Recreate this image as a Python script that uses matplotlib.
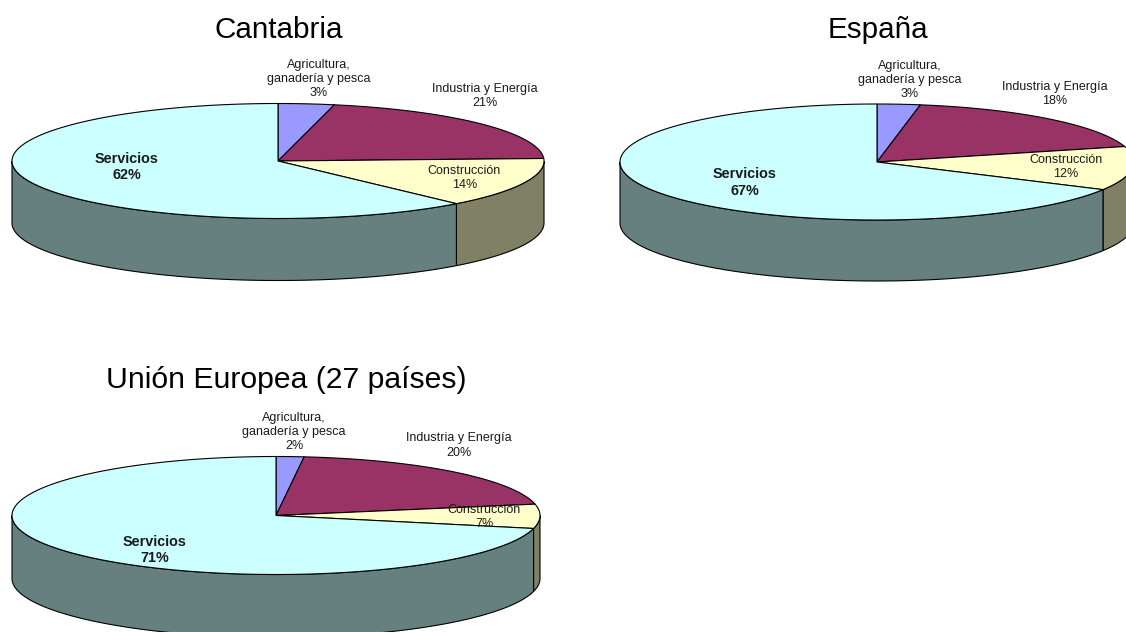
### 3D pies, sectores de actividad

import matplotlib
matplotlib.use("Agg")
import matplotlib.pyplot as plt
import numpy as np

plt.rcParams["font.family"] = ["Liberation Sans", "DejaVu Sans"]

sectors = ["Agricultura,\nganadería y pesca", "Industria y Energía", "Construcción", "Servicios"]
cantabria = [3.4, 20.9, 14.0, 61.7]
espana = [2.7, 18.0, 12.2, 67.1]
ue27 = [1.7, 20.2, 6.6, 71.4]

top_colors = ["#9999FF", "#993366", "#FFFFCC", "#CCFFFF"]
side_colors = ["#666680", "#662244", "#808066", "#668080"]


def draw_pie(ax, values, cx, cy, rx, ry, depth):
    edges = np.cumsum([0] + values) * 360 / sum(values)

    # sides first, only the front half (90-270 deg clockwise from top) shows
    for i in range(len(values)):
        a = max(edges[i], 90)
        b = min(edges[i + 1], 270)
        if b <= a:
            continue
        t = np.radians(np.linspace(a, b, 150))
        x = cx + rx * np.sin(t)
        y = cy - ry * np.cos(t)
        ax.fill(np.r_[x, x[::-1]], np.r_[y, y[::-1] + depth],
                fc=side_colors[i], ec="black", lw=0.8, zorder=2)

    for i in range(len(values)):
        t = np.radians(np.linspace(edges[i], edges[i + 1], 200))
        x = np.r_[cx, cx + rx * np.sin(t)]
        y = np.r_[cy, cy - ry * np.cos(t)]
        ax.fill(x, y, fc=top_colors[i], ec="black", lw=0.8, zorder=3)


def draw_labels(ax, values, places):
    for i in range(len(values)):
        s = f"{sectors[i]}\n{round(values[i])}%"
        bold = sectors[i] == "Servicios"
        ax.text(places[i][0], places[i][1], s, ha="center", va="center",
                fontsize=10.4 if bold else 9, color="#1a1a1a", linespacing=1.25,
                fontweight="bold" if bold else "normal", zorder=5)


fig = plt.figure(figsize=(11.26, 6.32), dpi=100)
ax = fig.add_axes([0, 0, 1, 1])
ax.set_xlim(0, 1126)
ax.set_ylim(632, 0)
ax.axis("off")

draw_pie(ax, cantabria, 278, 161, 266, 57.5, 62)
draw_pie(ax, espana, 877, 162, 257, 58, 61)
draw_pie(ax, ue27, 276, 515.5, 264, 59, 63)

draw_labels(ax, cantabria, [(318.5, 79), (484.5, 96), (464.5, 178), (126.5, 167)])
draw_labels(ax, espana, [(910, 80), (1054.5, 94), (1066, 167), (744.5, 182.5)])
draw_labels(ax, ue27, [(294, 432), (458.5, 445.5), (484.5, 517), (155, 550)])

ax.text(279, 38, "Cantabria", ha="center", va="baseline", fontsize=21.3)
ax.text(878, 38, "España", ha="center", va="baseline", fontsize=21.3)
ax.text(286.5, 388, "Unión Europea (27 países)", ha="center", va="baseline", fontsize=21.7)

fig.savefig("out.png", dpi=100)
